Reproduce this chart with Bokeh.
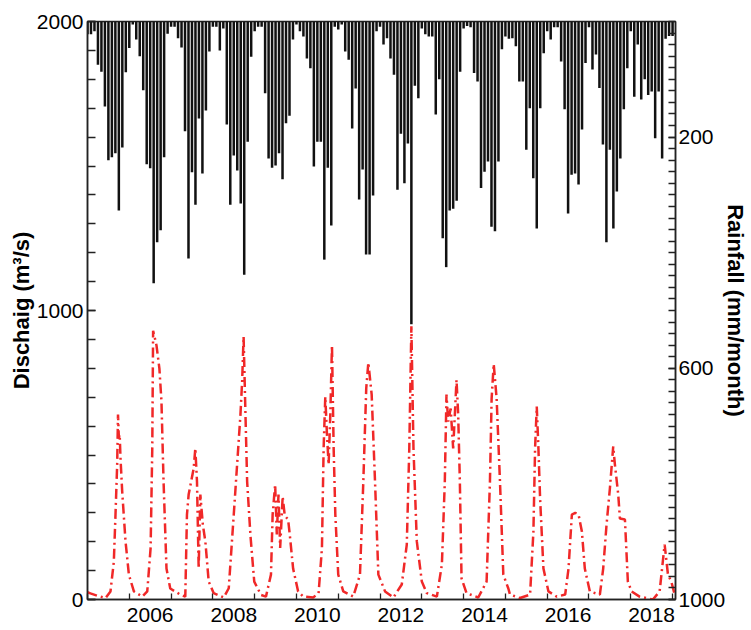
import numpy as np
import pandas as pd
from bokeh.plotting import figure
from bokeh.models import (Range1d, LinearAxis, FixedTicker, CustomJSTickFormatter,
                          ColumnDataSource)
from bokeh.embed import file_html
from bokeh.resources import INLINE

# ---------------- data ----------------
# monthly rainfall (mm/month), Jan..Dec of each year
rain_2005 = [22, 22, 17, 75, 87, 147, 240, 235, 228, 327, 218, 88]
rain_2006 = [46, 5, 31, 60, 119, 247, 254, 453, 382, 361, 235, 21]
rain_2007 = [9, 9, 29, 45, 190, 410, 261, 317, 168, 263, 154, 52]
rain_2008 = [9, 9, 50, 12, 178, 317, 232, 258, 315, 438, 208, 61]
rain_2009 = [17, 9, 9, 124, 237, 253, 249, 228, 273, 176, 163, 31]
rain_2010 = [5, 17, 26, 64, 81, 251, 208, 208, 412, 253, 353, 9]
rain_2011 = [14, 5, 52, 66, 185, 116, 308, 256, 403, 403, 301, 17]
rain_2012 = [9, 40, 29, 64, 92, 291, 194, 280, 211, 524, 111, 133]
rain_2013 = [12, 22, 26, 26, 161, 100, 375, 425, 327, 324, 310, 87]
rain_2014 = [12, 8, 10, 89, 104, 288, 260, 242, 355, 363, 242, 48]
rain_2015 = [26, 30, 29, 43, 104, 104, 222, 150, 271, 358, 150, 55]
rain_2016 = [17, 31, 10, 10, 69, 152, 332, 265, 263, 282, 187, 72]
rain_2017 = [10, 83, 57, 115, 213, 382, 222, 358, 294, 237, 152, 81]
rain_2018 = [17, 130, 40, 135, 100, 127, 121, 202, 121, 237, 30, 25]
rain_2019 = [25]

# discharge (m3/s) against decimal year
q_time = [2005.00, 2005.07, 2005.25, 2005.43, 2005.55, 2005.63, 2005.67, 2005.71, 2005.73,
          2005.75, 2005.77, 2005.79, 2005.83, 2005.91, 2005.99,
          2006.11, 2006.31, 2006.43, 2006.51, 2006.55, 2006.57, 2006.65, 2006.72, 2006.77,
          2006.82, 2006.89, 2006.98,
          2007.22, 2007.34, 2007.38, 2007.42, 2007.54, 2007.58, 2007.62, 2007.66, 2007.70,
          2007.76, 2007.82, 2007.90,
          2008.02, 2008.26, 2008.38, 2008.50, 2008.58, 2008.66, 2008.70, 2008.735, 2008.78,
          2008.82, 2008.90, 2008.99,
          2009.15, 2009.27, 2009.39, 2009.43, 2009.49, 2009.53, 2009.57, 2009.61, 2009.67,
          2009.72, 2009.80, 2009.84, 2009.92,
          2010.04, 2010.16, 2010.40, 2010.53, 2010.61, 2010.65, 2010.69, 2010.73, 2010.77,
          2010.81, 2010.85, 2010.89, 2010.93,
          2011.00, 2011.12, 2011.36, 2011.52, 2011.60, 2011.67, 2011.72, 2011.80, 2011.88,
          2011.96,
          2012.12, 2012.32, 2012.52, 2012.64, 2012.70, 2012.75, 2012.80, 2012.88,
          2013.00, 2013.12, 2013.36, 2013.48, 2013.55, 2013.59, 2013.63, 2013.69, 2013.75,
          2013.79, 2013.83, 2013.87, 2013.91, 2013.95,
          2014.07, 2014.35, 2014.55, 2014.63, 2014.67, 2014.72, 2014.79, 2014.87, 2014.95,
          2015.07, 2015.11, 2015.35, 2015.59, 2015.67, 2015.71, 2015.75, 2015.79, 2015.83,
          2015.91,
          2016.03, 2016.23, 2016.43, 2016.51, 2016.59, 2016.67, 2016.75, 2016.83, 2016.90,
          2017.02, 2017.26, 2017.34, 2017.42, 2017.50, 2017.58, 2017.62, 2017.70, 2017.74,
          2017.86, 2017.93,
          2018.02, 2018.21, 2018.53, 2018.69, 2018.81, 2018.89, 2018.97, 2019.05]
q_value = [25, 21, 12, 5, 28, 131, 294, 467, 640,
           560, 571, 488, 374, 201, 86,
           28, 10, 28, 178, 523, 930, 880, 800, 685,
           408, 107, 38,
           17, 10, 294, 363, 453, 523, 408, 107, 363,
           259, 201, 62,
           22, 7, 39, 294, 467, 640, 754, 910, 640,
           408, 220, 62,
           16, 10, 86, 294, 398, 225, 363, 178, 356,
           290, 277, 225, 107,
           28, 10, 7, 22, 178, 523, 702, 571, 467,
           640, 880, 523, 294,
           86, 28, 10, 86, 408, 731, 820, 709, 408,
           86,
           28, 7, 52, 190, 523, 945, 523, 201,
           62, 22, 10, 121, 408, 709, 616, 661, 523,
           640, 760, 640, 408, 73,
           22, 7, 62, 408, 695, 815, 695, 408, 86,
           38, 17, 5, 17, 235, 523, 668, 523, 349,
           107,
           28, 10, 17, 107, 294, 300, 294, 235, 107,
           28, 17, 107, 259, 384, 530, 467, 363, 280,
           277, 62,
           28, 10, 0, 28, 190, 86, 62, 17]

label_years = [2006, 2008, 2010, 2012, 2014, 2016, 2018]
year_ticks = list(range(2005, 2020))

# ---------------- derived ----------------
rain = (rain_2005 + rain_2006 + rain_2007 + rain_2008 + rain_2009 + rain_2010 + rain_2011 +
        rain_2012 + rain_2013 + rain_2014 + rain_2015 + rain_2016 + rain_2017 + rain_2018 +
        rain_2019)
months = pd.date_range("2005-01-01", periods=len(rain), freq="MS")
t_rain = (months.year + (months.month - 1) / 12.0).to_numpy()
rain_src = ColumnDataSource(dict(t=t_rain, rain=rain))

FONT = "Liberation Sans"
AX = "#222222"

p = figure(width=751, height=630, output_backend="svg", toolbar_location=None,
           x_range=Range1d(2005.0, 2019.07), y_range=Range1d(0, 2000),
           min_border_left=87, min_border_right=75, min_border_top=21, min_border_bottom=31)
p.extra_y_ranges = {"rain": Range1d(start=1000, end=0)}
p.xgrid.visible = False
p.ygrid.visible = False
p.outline_line_color = AX
p.outline_line_width = 1.5
p.background_fill_color = "white"
p.border_fill_color = "white"

p.vbar(x="t", top=0, bottom="rain", width=0.72 / 12, source=rain_src,
       y_range_name="rain", fill_color="#111111", line_color=None)

p.line(q_time, q_value, line_color="#f02828", line_width=2.5, line_dash="10 4 2 4")

def style(ax, tick_len):
    ax.axis_line_color = AX
    ax.axis_line_width = 1.5
    ax.major_tick_line_color = AX
    ax.minor_tick_line_color = AX
    ax.major_tick_line_width = 1.3
    ax.minor_tick_line_width = 1.3
    ax.major_tick_in = tick_len
    ax.major_tick_out = 0
    ax.minor_tick_in = tick_len
    ax.minor_tick_out = 0
    ax.major_label_text_font = FONT
    ax.major_label_text_font_size = "21px"
    ax.major_label_text_color = "black"
    ax.axis_label_text_font = FONT
    ax.axis_label_text_font_size = "22px"
    ax.axis_label_text_font_style = "bold"
    ax.axis_label_text_color = "black"

# bottom axis: year ticks, labels centred in the year
xa = p.xaxis[0]
style(xa, 6)
xa.ticker = FixedTicker(ticks=[y + 0.5 for y in label_years], minor_ticks=year_ticks)
xa.major_tick_in = 0
xa.formatter = CustomJSTickFormatter(code="return String(Math.floor(tick));")
xa.major_label_standoff = 8

# left axis
ya = p.yaxis[0]
style(ya, 8)
ya.ticker = FixedTicker(ticks=[0, 1000, 2000], minor_ticks=list(range(0, 2001, 100)))
ya.axis_label = "Dischaig (m³/s)"
ya.major_label_standoff = 4
ya.axis_label_standoff = 0

# right axis (rainfall, inverted)
ra = LinearAxis(y_range_name="rain")
style(ra, 7)
ra.ticker = FixedTicker(ticks=[200, 600, 1000], minor_ticks=list(range(0, 1001, 20)))
ra.axis_label = "Rainfall (mm/month)"
ra.major_label_standoff = 3
ra.axis_label_standoff = -5
p.add_layout(ra, "right")

open("out.html", "w").write(file_html(p, INLINE))
